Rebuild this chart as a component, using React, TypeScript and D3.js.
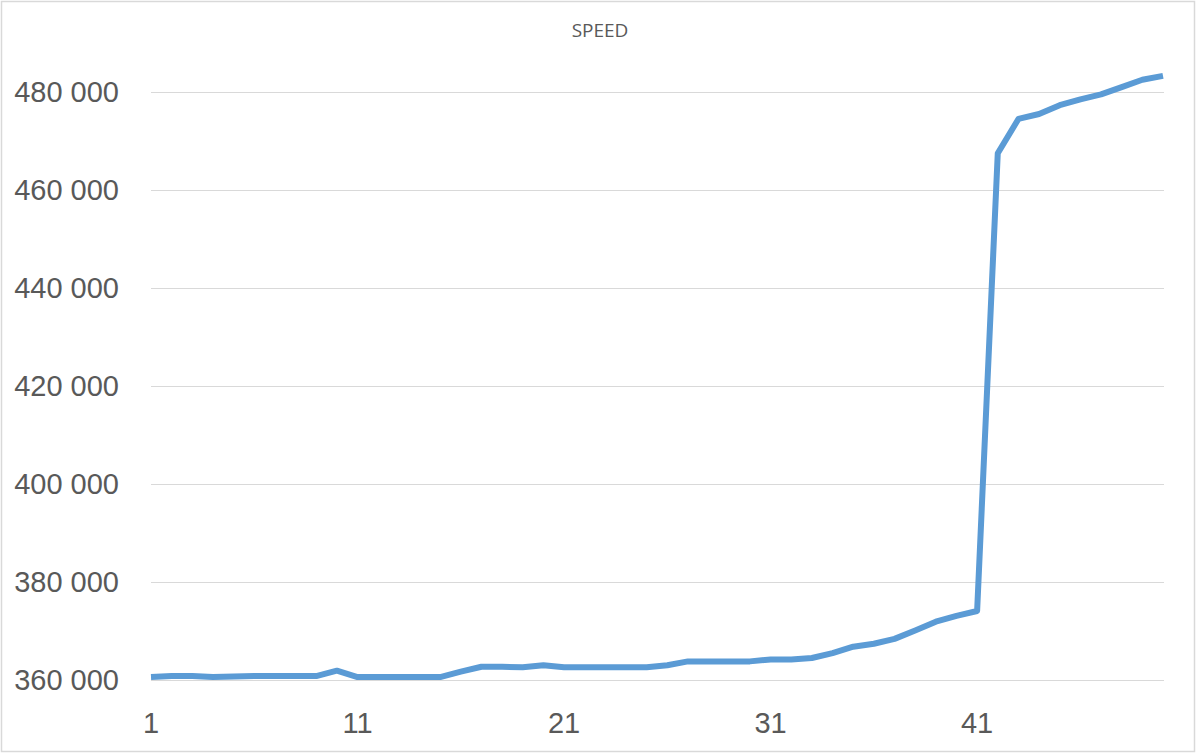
import React from "react";
import * as d3 from "d3";

const title = "SPEED";
const speed: number[] = [
  360500, 360700, 360700, 360500, 360600, 360700, 360700, 360700, 360700, 361800,
  360500, 360500, 360500, 360500, 360500, 361600, 362600, 362600, 362500, 362900,
  362500, 362500, 362500, 362500, 362500, 362900, 363700, 363700, 363700, 363700,
  364100, 364100, 364400, 365400, 366700, 367300, 368300, 370000, 371800, 373000,
  374000, 467500, 474500, 475500, 477300, 478500, 479500, 481000, 482500, 483300,
];
const yTicks: number[] = [360000, 380000, 400000, 420000, 440000, 460000, 480000];
const xTickLabels: number[] = [1, 11, 21, 31, 41];

const W = 1200;
const H = 753;

export default function App() {
  const x = d3.scaleLinear().domain([1, speed.length]).range([151, 1163]);
  const y = d3.scaleLinear().domain([360000, 480000]).range([679.5, 92]);
  const fmt = (v: number) => d3.format(",")(v).replace(/,/g, " ");
  const line = d3
    .line<number>()
    .x((_, i) => x(i + 1))
    .y((d) => y(d));
  const font = "'Liberation Sans', Arial, sans-serif";
  return (
    <svg
      width={W}
      height={H}
      style={{ position: "absolute", left: 0, top: 0, background: "#fff" }}
    >
      <rect x={1.5} y={1.5} width={1193} height={750} fill="#fff" stroke="#d9d9d9" strokeWidth={1.5} />
      <text x={600} y={36.5} textAnchor="middle" fontFamily="'Open Sans', sans-serif" fontSize={19} fill="#595959">
        {title}
      </text>
      {yTicks.map((t) => (
        <g key={t}>
          <line x1={151} x2={1164} y1={Math.round(y(t)) + 0.5} y2={Math.round(y(t)) + 0.5} stroke="#d9d9d9" strokeWidth={1} />
          <text
            x={119}
            y={y(t)}
            dy="0.36em"
            textAnchor="end"
            fontFamily={font}
            fontSize={29}
            fill="#595959"
          >
            {fmt(t)}
          </text>
        </g>
      ))}
      {xTickLabels.map((t) => (
        <text
          key={t}
          x={x(t)}
          y={733}
          textAnchor="middle"
          fontFamily={font}
          fontSize={29}
          fill="#595959"
        >
          {t}
        </text>
      ))}
      <path
        d={line(speed) || ""}
        fill="none"
        stroke="#5B9BD5"
        strokeWidth={6}
        strokeLinejoin="round"
        strokeLinecap="butt"
      />
    </svg>
  );
}
